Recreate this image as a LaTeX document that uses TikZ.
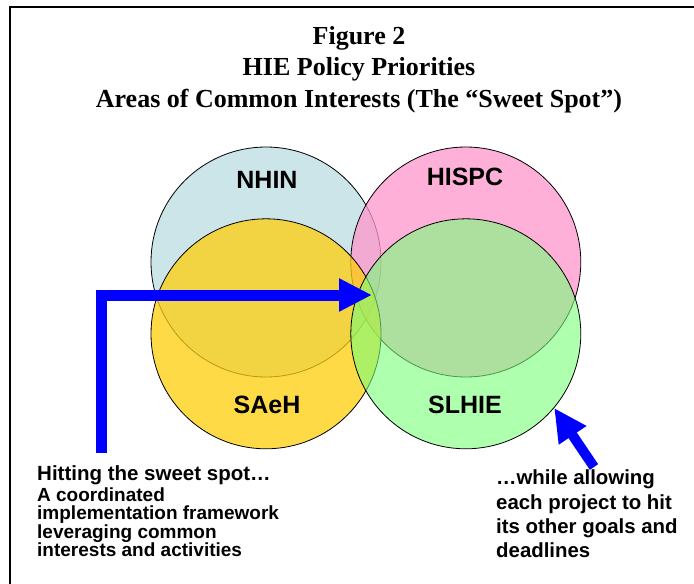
\documentclass[tikz,border=0pt]{standalone}
\usepackage{fontspec}
\setmainfont{Liberation Serif}
\setsansfont{Liberation Sans}
\usepackage{tikz}
\usetikzlibrary{arrows.meta}
\usetikzlibrary{positioning}

\definecolor{nhinblue}{RGB}{187,220,224}
\definecolor{hispcpink}{RGB}{255,150,203}
\definecolor{saehyellow}{RGB}{255,205,10}
\definecolor{slhiegreen}{RGB}{120,255,120}
\definecolor{arrowblue}{RGB}{0,0,255}

\begin{document}
\begin{tikzpicture}
[x=1pt, y=-1pt,
venn/.style   ={circle, draw, minimum size=230pt, inner sep=0pt, line width=0.8pt, fill opacity=0.75},
tag/.style    ={font=\sffamily\bfseries\fontsize{25}{30}\selectfont, inner sep=0pt},
note/.style   ={font=\sffamily\bfseries, align=left, inner sep=0pt, anchor=north west},
heading/.style={font=\bfseries\fontsize{26}{31.5}\selectfont, align=center, inner sep=0pt, anchor=north},
bigarrow/.style={draw=arrowblue, line width=11pt, line join=miter, -{Triangle[length=33pt, width=31pt]}},
frame/.style  ={draw, line width=2pt},
node distance = -31pt]
\useasboundingbox (0,0) rectangle (694,584);

\draw[frame] (10,584) -- (10,7) -- (694,7);

\node[heading] (caption) at (359,26) {Figure 2\\HIE Policy Priorities\\Areas of Common Interests (The “Sweet Spot”)};

\node[venn, fill=nhinblue] (nhin) at (266,262) {};
\node[venn, fill=hispcpink, right=of nhin] (hispc) {};
\node[venn, fill=saehyellow, below=-159pt of nhin] (saeh) {};
\node[venn, fill=slhiegreen, fill opacity=0.6, right=of saeh] (slhie) {};

\node[tag] at (267,180) (nhintag) {NHIN};
\node[tag] at (465,177) (hispctag) {HISPC};
\node[tag] at (267,405) (saehtag) {SAeH};
\node[tag] at (465,405) (slhietag) {SLHIE};

\node[note, font=\sffamily\bfseries\fontsize{20.5}{22}\selectfont] at (37,465) (hitting) {Hitting the sweet spot…};
\node[note, font=\sffamily\bfseries\fontsize{19}{18.3}\selectfont, below=3pt of hitting.south west, anchor=north west] (framework) {A coordinated\\implementation framework\\leveraging common\\interests and activities};
\node[note, font=\sffamily\bfseries\fontsize{20.4}{24.2}\selectfont] at (496,470) (allowing) {…while allowing\\each project to hit\\its other goals and\\deadlines};

\coordinate (hitstart) at (101,453);
\coordinate (spot) at (372,295);
\coordinate (allowstart) at (594,467);

\path[bigarrow] (hitstart) |- (spot);
\path[bigarrow, line width=10pt] (allowstart) -- (slhie.-40);
\end{tikzpicture}
\end{document}
